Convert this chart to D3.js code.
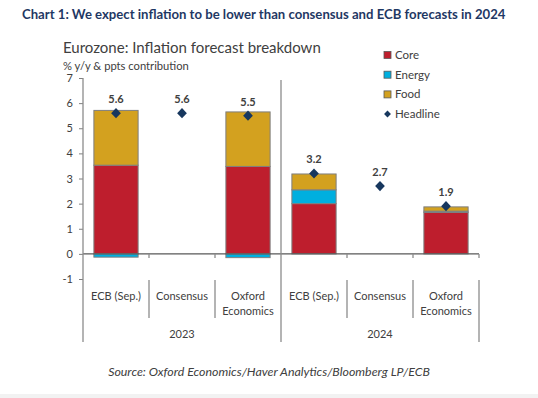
<!DOCTYPE html>
<html><head><meta charset="utf-8">
<script src="https://cdn.jsdelivr.net/npm/d3@7"></script>
<style>
body{margin:0;background:#fff;}
svg{display:block;font-family:Lato,"Open Sans",sans-serif;}
</style></head>
<body>
<script>
const years = ["2023", "2024"];
const sources = ["ECB (Sep.)", "Consensus", "Oxford Economics"];
const core     = [3.53, null, 3.48, 2.0, null, 1.65];
const energy   = [-0.13, null, -0.15, 0.55, null, 0.05];
const food     = [2.18, null, 2.17, 0.63, null, 0.17];
const headline = [5.6, 5.6, 5.5, 3.2, 2.7, 1.9];
const yTicks = [-1, 0, 1, 2, 3, 4, 5, 6, 7];
const seriesNames = ["Core", "Energy", "Food"];
const colors = {Core: "#be1e2d", Energy: "#00afdf", Food: "#d3a11f"};

const W = 538, H = 398;
const svg = d3.select("body").append("svg").attr("width", W).attr("height", H);

const keys = [];
years.forEach(y => sources.forEach(s => keys.push(y + "|" + s)));
const rows = keys.map((k, i) => ({key: k, Core: core[i] || 0, Energy: energy[i] || 0, Food: food[i] || 0, headline: headline[i], hasBar: core[i] != null}));

const x = d3.scaleBand().domain(keys).range([83, 479]).paddingInner(0).paddingOuter(0);
const y = d3.scaleLinear().domain([-1, 7]).range([279, 78]);
const barW = x.bandwidth() * 0.67;

// bottom grey band
svg.append("rect").attr("x", 0).attr("y", 394).attr("width", W).attr("height", 4).attr("fill", "#f2f2f2");

// title
svg.append("text").attr("x", 22).attr("y", 19).attr("fill", "#1f3864")
  .attr("font-weight", "bold").attr("font-size", 13.15).text("Chart 1: We expect inflation to be lower than consensus and ECB forecasts in 2024");
svg.append("text").attr("x", 63).attr("y", 53).attr("fill", "#404040")
  .attr("font-size", 15).text("Eurozone: Inflation forecast breakdown");
svg.append("text").attr("x", 63).attr("y", 70).attr("fill", "#404040")
  .attr("font-size", 11.2).text("% y/y & ppts contribution");

// y axis
const yAxis = d3.axisLeft(y).tickValues(yTicks).tickSize(4).tickPadding(6).tickFormat(d => String(d));
const gy = svg.append("g").attr("transform", "translate(83,0)").call(yAxis);
gy.select(".domain").remove();
gy.selectAll("line").attr("stroke", "#7f7f7f");
gy.selectAll("text").attr("fill", "#404040").attr("font-size", 11).attr("font-family", "Lato,sans-serif");

// stacked bars
const stack = d3.stack().keys(seriesNames).offset(d3.stackOffsetDiverging);
const stacked = stack(rows.filter(r => r.hasBar));
svg.append("g").selectAll("g").data(stacked).join("g")
  .attr("fill", d => colors[d.key])
  .selectAll("rect").data(d => d).join("rect")
  .attr("x", d => x(d.data.key) + (x.bandwidth() - barW) / 2)
  .attr("width", barW)
  .attr("y", d => y(Math.max(d[0], d[1])))
  .attr("height", d => Math.abs(y(d[0]) - y(d[1])))
  .attr("stroke", "#7f7f7f").attr("stroke-width", 1);

// axis lines
const axisCol = "#8c8c8c";
svg.append("line").attr("x1", 83).attr("x2", 479).attr("y1", y(0)).attr("y2", y(0)).attr("stroke", "#595959").attr("stroke-width", 1.2);
const groupEdges = [keys[0], keys[3]].map(k => x(k)).concat([x.range()[1]]);
svg.append("line").attr("x1", 83).attr("x2", 83).attr("y1", 78).attr("y2", 342).attr("stroke", axisCol).attr("stroke-width", 1.3);
svg.append("line").attr("x1", groupEdges[1]).attr("x2", groupEdges[1]).attr("y1", 80).attr("y2", 342).attr("stroke", axisCol).attr("stroke-width", 1.3);
svg.append("line").attr("x1", groupEdges[2]).attr("x2", groupEdges[2]).attr("y1", y(0)).attr("y2", y(0) + 4).attr("stroke", axisCol).attr("stroke-width", 1.3);
svg.append("line").attr("x1", groupEdges[2]).attr("x2", groupEdges[2]).attr("y1", 280).attr("y2", 342).attr("stroke", axisCol).attr("stroke-width", 1.3);
keys.forEach((k, i) => {
  if (i % 3 === 0) return;
  const xx = x(k);
  svg.append("line").attr("x1", xx).attr("x2", xx).attr("y1", y(0)).attr("y2", y(0) + 4).attr("stroke", axisCol).attr("stroke-width", 1.3);
  svg.append("line").attr("x1", xx).attr("x2", xx).attr("y1", 280).attr("y2", 318).attr("stroke", axisCol).attr("stroke-width", 1.3);
});

// category labels
keys.forEach(k => {
  const src = k.split("|")[1];
  const cx = x(k) + x.bandwidth() / 2;
  const lines = src === "Oxford Economics" ? ["Oxford", "Economics"] : [src];
  lines.forEach((t, j) => {
    svg.append("text").attr("x", cx).attr("y", 300 + j * 15).attr("text-anchor", "middle")
      .attr("fill", "#404040").attr("font-size", 11).text(t);
  });
});
years.forEach((yr, i) => {
  const cx = (groupEdges[i] + groupEdges[i + 1]) / 2;
  svg.append("text").attr("x", cx).attr("y", 338).attr("text-anchor", "middle")
    .attr("fill", "#404040").attr("font-size", 11).text(yr);
});

// headline diamonds + labels
const diamond = d3.symbol().type(d3.symbolDiamond2).size(60);
rows.forEach(r => {
  const cx = x(r.key) + x.bandwidth() / 2;
  svg.append("path").attr("d", diamond()).attr("transform", `translate(${cx},${y(r.headline)}) scale(1,1.05)`)
    .attr("fill", "#17375e");
  svg.append("text").attr("x", cx).attr("y", y(r.headline) - 10).attr("text-anchor", "middle")
    .attr("font-weight", "bold").attr("fill", "#404040").attr("font-size", 11).text(d3.format(".1f")(r.headline));
});

// legend
const legend = svg.append("g");
seriesNames.forEach((s, i) => {
  const ly = 55 + i * 19.7;
  legend.append("rect").attr("x", 384).attr("y", ly - 3.5).attr("width", 7).attr("height", 7)
    .attr("fill", colors[s]).attr("stroke", "#595959").attr("stroke-width", 0.8);
  legend.append("text").attr("x", 395).attr("y", ly + 4).attr("fill", "#404040").attr("font-size", 11.5).text(s);
});
legend.append("path").attr("d", d3.symbol().type(d3.symbolDiamond2).size(30)()).attr("transform", "translate(387.5,114)").attr("fill", "#17375e");
legend.append("text").attr("x", 395).attr("y", 118).attr("fill", "#404040").attr("font-size", 11.5).text("Headline");

// source
svg.append("text").attr("x", 269).attr("y", 376).attr("text-anchor", "middle").attr("font-style", "italic")
  .attr("fill", "#404040").attr("font-size", 12.4).text("Source: Oxford Economics/Haver Analytics/Bloomberg LP/ECB");
</script>
</body></html>
